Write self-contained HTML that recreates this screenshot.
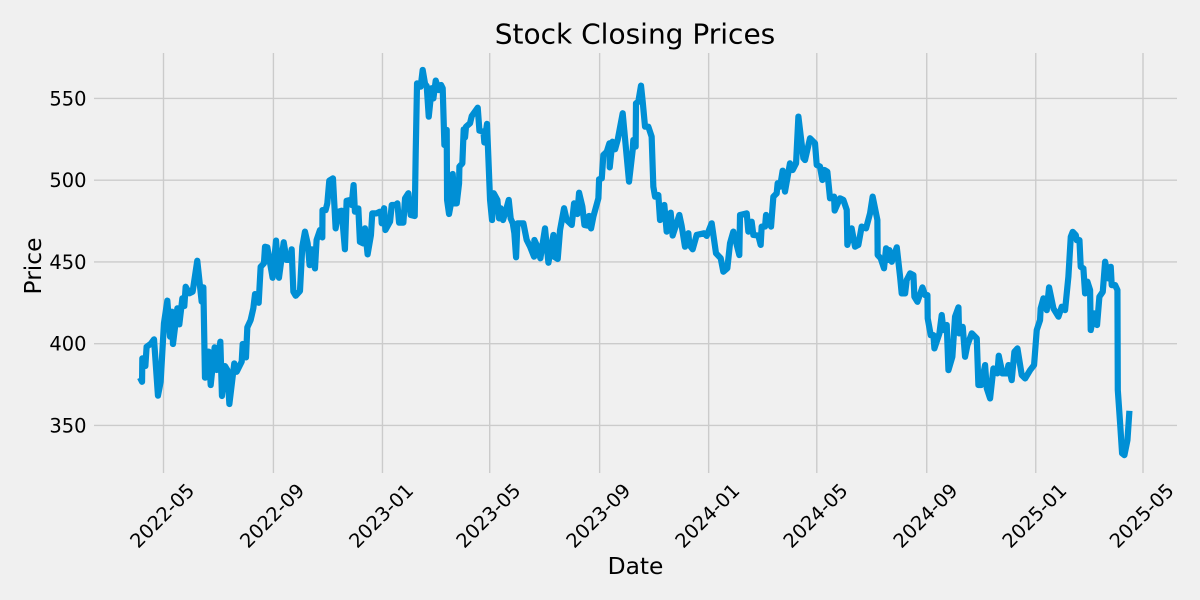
<!DOCTYPE html>
<html lang="en">
<head>
<meta charset="utf-8">
<title>Stock Closing Prices</title>
<style>
html,body{margin:0;padding:0;background:#f0f0f0;width:1200px;height:600px;overflow:hidden}
svg{display:block}
text{font-family:"DejaVu Sans","Liberation Sans",sans-serif;fill:#000}
</style>
</head>
<body>
<svg id="chart" width="1200" height="600" viewBox="0 0 1200 600" xmlns="http://www.w3.org/2000/svg">
  <rect x="0" y="0" width="1200" height="600" fill="#f0f0f0"></rect>
  <g id="grid"></g>
  <g id="xticks"></g>
  <g id="yticks"></g>
  <g id="series"></g>
  <text x="635" y="43.5" text-anchor="middle" font-size="28">Stock Closing Prices</text>
  <text x="635.5" y="574" text-anchor="middle" font-size="23.33">Date</text>
  <text transform="translate(41 266) rotate(-90)" text-anchor="middle" font-size="23.33">Price</text>
</svg>
<script>
const xTickLabels = ['2022-05','2022-09','2023-01','2023-05','2023-09','2024-01','2024-05','2024-09','2025-01','2025-05'];
const yTickValues = [350,400,450,500,550];
// days since 2022-05-01
const days = [-26.3,-24,-23.7,-20.3,-18.9,-14.4,-10.6,-6.2,-3.2,0.5,4.3,7.3,9.5,10.6,15.5,17.7,21.1,23.3,24.8,28.9,32.6,37.8,42.7,44.6,46.4,50.5,52.8,57.2,59.5,63.6,65.4,68.8,71.4,73.7,79.2,81.9,87.5,88.6,92.3,93.8,97.5,100.5,102.4,106.5,108.7,112.4,113.6,116.2,122.1,125.9,129.2,134.5,137.8,142.3,143.4,145.3,147.9,152.7,155.3,158.3,161.3,163.5,165.8,169.5,171.3,175.1,177.7,177.9,181.4,183.3,185.5,189.6,192.6,195.6,199.3,203,204.9,208.6,210.5,212.7,214.2,218,219.8,223.6,225.4,228.4,232.1,233.6,238.5,242.2,243.4,244.2,246.8,248.3,253.5,255.4,259.8,261.7,263.6,268.4,270.3,274,276.6,281.1,282.2,283.7,287.8,290,292.7,294.5,296.8,300.1,302,304.6,308,310.6,312.4,314.3,316.9,317.3,319.5,321.7,323.6,325.8,328.1,330.7,331.1,334.4,335.9,337.4,338.5,343,344.9,351.6,353.5,358,359,362,365.4,367.6,369.5,373.6,375.5,377.3,379.9,383.3,386.3,388.5,390.8,392.6,394.5,396,402.7,406.4,410.2,414.6,415,418.4,421.7,426.9,430.7,436.3,437,441.1,443.7,448.2,451.2,456.8,459.4,463.1,465,468.7,471,474.3,476.2,478.4,481,486.6,487.4,490.4,492.2,496,498.9,499.3,502.3,505.3,508.2,513.8,520.9,525,525.7,528.3,528.7,531.3,534.3,536.2,538.8,542.5,546.2,548.1,550,553.7,555.6,560.4,563,567.5,569.7,577.2,579.8,583.5,587.3,588.4,592.1,596.6,604.8,607.8,613.4,618.2,623.5,626.4,630.9,633.9,637.6,644.3,645.1,652.6,654.4,658.1,660,665.6,668.2,669.3,673.1,674.2,679.8,682.4,686.1,687.2,689.9,692.8,695.4,701,704,707.8,710.4,716,717.8,723.4,729,730.9,734.6,737.2,739.5,742.8,745.8,750.3,751,757,760.7,764.5,765.2,770,773.8,777.5,781.2,786.1,790.6,793.5,798.8,799.1,802.5,806.2,808.5,810,812.2,814.9,820.5,824.2,826,829.8,831.6,835.4,839.1,840.2,843.6,849.2,852.2,854.8,855.1,858.5,861.5,862.6,868.2,870.8,872.7,876.4,878.3,882.7,885.7,889.5,890.2,894.3,896.9,899.5,904.4,910,911.8,914.8,919.3,921.2,924.9,928.6,933.1,934.6,938.7,943.5,945.4,949.1,952.1,955.5,960.3,964.1,969.7,974.1,977.1,980.8,981.5,984.6,988.3,990.9,995.8,1001.4,1005.1,1008.8,1012.5,1015.2,1017.4,1020.8,1021.9,1024.9,1026.3,1029.3,1031.2,1033.8,1036.8,1037.5,1041.3,1044.6,1047.2,1051,1053.6,1057.3,1059.9,1061,1064.8,1067.4,1067.8,1070.4,1072.6,1075.2,1078.6,1080.8];
const closes = [379.2,376.7,391,386.3,398.1,399.8,402.6,368.2,376.7,412.4,426.3,404.3,419.5,399.8,421.6,411.8,427.7,423,434.8,430.8,431.8,450.7,425.7,434.4,379.2,395.1,374.7,397.7,383.9,401.2,368,386.3,383.9,363.1,387.9,382.8,389,399.8,391.6,410,414.4,421.6,430.3,425,447,449.1,459.3,458.9,440.3,463,440.3,462,451.2,451.2,457.7,431.8,429.3,432.2,459.3,468.5,461.3,448,457.7,446,463.4,469.5,465,481.7,481.7,485.8,499.7,501.1,470.5,480.7,481.3,457.7,487.4,487.8,484.8,497,480.7,482.7,462.3,461.3,470.5,454.6,466.4,479.7,479.7,480.7,480.7,473.6,482.8,469.5,474.6,484.8,484.8,485.8,474,474,488.9,492,478.7,478.1,516.4,559.2,557.2,567.4,558.8,557.6,538.8,556.2,550,560.9,555.1,558.2,556.2,521.5,530.7,487.9,479.3,485.8,503.8,485.8,485.8,498,508.3,510.3,531.1,526.2,532.7,534.8,539.2,544.3,530.3,529.7,523,534.4,487.9,475.6,492,487.9,476.6,482.8,475.6,481.8,487.9,476.5,473.6,467.5,452.8,473.6,473.6,463.4,459.3,453.2,463.4,459.3,452.2,470.5,449.5,466.5,453.2,451.8,469.5,482.8,475.6,472.6,485.8,479.3,492.3,483.8,472.6,472.2,478.1,470.5,477.7,488.9,500.5,501.1,515.4,517.4,522.5,507.8,523.5,518.9,524.6,540.9,499.1,518.5,524.6,520.5,547,548,557.8,548,532.7,532.7,526.6,496,489.9,490.9,475.6,484.8,468.5,480.1,466.1,478.7,472,459.3,467.5,460.4,457.7,466.5,467.5,465.9,473.6,455.3,452.2,444,446.1,461.4,468.5,454.2,478.7,479.7,468.5,474.6,466.5,466.1,460.4,471.6,471.6,478.7,471.6,489.9,491.9,498.1,496,505.8,493,510.3,506.2,510.3,538.9,513.4,512.3,525.6,522.5,509.3,508.3,500.1,506.2,505.2,488.9,489.9,481.4,488.9,487.9,481.8,460.4,470.5,459.3,460.4,471.6,470.5,479.7,489.9,475.6,454.2,452.2,446.1,458.3,451.1,457.2,450.1,458.9,440.9,430.7,430.7,438.9,443,441.9,428.7,425.6,434.4,429.7,429.7,415.4,405.2,405.2,397.1,406.3,417.5,408.3,411.4,383.8,392,416.5,422.2,406.3,410.3,392,399.1,406.3,403.2,374.7,374.7,386.9,372.6,366.5,384.8,381.8,392.6,381.8,381.8,386.9,377.7,395,397.1,380.8,378.7,383.8,386.9,408.3,414.4,421.5,427.7,420.5,434.4,421.5,416.5,422.6,420.5,440.9,465.4,468.4,466.4,463.3,463.3,447,446,430.7,437.9,432.8,408.3,418.5,411.4,428.7,431.7,450.1,439.9,447,435.8,435.8,432.8,371.6,351.2,332.9,331.8,341,358.9];

const SVG_NS = 'http://www.w3.org/2000/svg';
const plotLeft = 94, plotRight = 1177, plotTop = 53, plotBottom = 473;
const MS_PER_DAY = 86400000;
const baseTime = Date.UTC(2022, 4, 1);

function xScale(d) { return 163.5 + d * (1143 - 163.5) / 1096; }
function yScale(v) { return 425.4 - (v - 350) * (425.4 - 98.4) / 200; }
function labelToDay(label) {
  const parts = label.split('-');
  return (Date.UTC(+parts[0], +parts[1] - 1, 1) - baseTime) / MS_PER_DAY;
}

const gridGroup = document.getElementById('grid');
const xTickGroup = document.getElementById('xticks');
const yTickGroup = document.getElementById('yticks');
const seriesGroup = document.getElementById('series');

function gridLine(x1, y1, x2, y2) {
  const line = document.createElementNS(SVG_NS, 'line');
  line.setAttribute('x1', x1);
  line.setAttribute('y1', y1);
  line.setAttribute('x2', x2);
  line.setAttribute('y2', y2);
  line.setAttribute('stroke', '#cbcbcb');
  line.setAttribute('stroke-width', '1.39');
  return line;
}

xTickLabels.forEach(function (label) {
  const x = xScale(labelToDay(label));
  const line = gridLine(x, plotTop, x, plotBottom);
  
  
  gridGroup.appendChild(line);
  const text = document.createElementNS(SVG_NS, 'text');
  text.textContent = label;
  text.setAttribute('font-size', '19.44');
  text.setAttribute('text-anchor', 'middle');
  text.setAttribute('transform', 'translate(' + (x - 1.5) + ' 515.5) rotate(-45) translate(0 7)');
  
  
  xTickGroup.appendChild(text);
});

yTickValues.forEach(function (value) {
  const y = yScale(value);
  const line = gridLine(plotLeft, y, plotRight, y);
  
  
  gridGroup.appendChild(line);
  const text = document.createElementNS(SVG_NS, 'text');
  text.textContent = String(value);
  text.setAttribute('font-size', '19.44');
  text.setAttribute('text-anchor', 'end');
  text.setAttribute('x', 86.5);
  text.setAttribute('y', y + 7);
  
  
  yTickGroup.appendChild(text);
});

let pathData = '';
days.forEach(function (d, i) {
  pathData += (i === 0 ? 'M' : 'L') + xScale(d).toFixed(2) + ' ' + yScale(closes[i]).toFixed(2);
});
const pricePath = document.createElementNS(SVG_NS, 'path');
pricePath.setAttribute('d', pathData);
pricePath.setAttribute('fill', 'none');
pricePath.setAttribute('stroke', '#008fd5');
pricePath.setAttribute('stroke-width', '6.2');
pricePath.setAttribute('stroke-linejoin', 'round');
pricePath.setAttribute('stroke-linecap', 'butt');


seriesGroup.appendChild(pricePath);
</script>
</body>
</html>
